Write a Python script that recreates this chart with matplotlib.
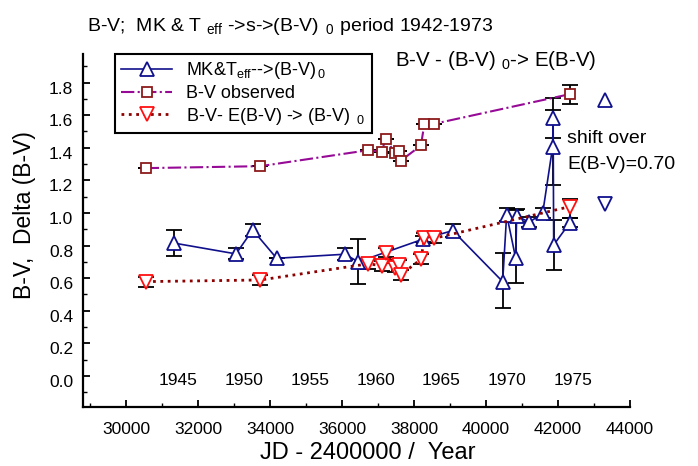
import matplotlib
matplotlib.use('Agg')
import matplotlib.pyplot as plt
from matplotlib import font_manager
from matplotlib.ticker import MultipleLocator, FixedLocator
from matplotlib.transforms import ScaledTranslation

plt.rcParams['font.family'] = ['Liberation Sans', 'DejaVu Sans']
plt.rcParams['mathtext.fontset'] = 'custom'
plt.rcParams['mathtext.rm'] = 'Liberation Sans'
plt.rcParams['mathtext.it'] = 'Liberation Sans:italic'
plt.rcParams['mathtext.bf'] = 'Liberation Sans:bold'

# ---- data: MK & Teff -> (B-V)0 ----
mk_jd = [31342, 33056, 33519, 34185, 36083, 36453, 38259, 39075, 40463, 40574,
         40825, 40852, 41203, 41575, 41850, 41865, 41880, 42333]
mk_bv = [0.815, 0.749, 0.896, 0.722, 0.747, 0.700, 0.840, 0.892, 0.579, 0.990,
         0.722, 0.982, 0.943, 0.999, 1.404, 1.582, 0.804, 0.941]
mk_err_lo = [0.078, 0.034, 0.037, 0.0, 0.037, 0.135, 0.02, 0.04, 0.163, 0.04,
             0.149, 0.04, 0.03, 0.03, 0.23, 0.125, 0.155, 0.03]
mk_err_hi = [0.081, 0.034, 0.037, 0.0, 0.037, 0.141, 0.02, 0.04, 0.174, 0.04,
             0.297, 0.04, 0.03, 0.03, 0.23, 0.125, 0.155, 0.03]

# ---- data: observed B-V ----
obs_jd = [30547, 33731, 36731, 37102, 37213, 37480, 37590, 37630, 38194, 38287, 38564, 42333]
obs_bv = [1.275, 1.287, 1.385, 1.375, 1.455, 1.365, 1.380, 1.320, 1.414, 1.547, 1.547, 1.729]
obs_err = [0.0, 0.0, 0.0, 0.0, 0.0, 0.0, 0.0, 0.0, 0.0, 0.0, 0.0, 0.058]

# ---- data: B-V - E(B-V) -> (B-V)0 ----
cor_bv = [0.579, 0.589, 0.688, 0.677, 0.757, 0.665, 0.681, 0.620, 0.716, 0.845, 0.845, 1.039]
cor_err_lo = [0.035, 0.03, 0.03, 0.03, 0.03, 0.03, 0.03, 0.03, 0.03, 0.03, 0.03, 0.07]
cor_err_hi = [0.03, 0.03, 0.03, 0.03, 0.03, 0.03, 0.03, 0.03, 0.03, 0.03, 0.03, 0.046]

# ---- annotation markers ----
ann_jd = [43306]
ann_up = [1.694]
ann_down = [1.056]

# ---- tick labels ----
x_ticks = [30000, 32000, 34000, 36000, 38000, 40000, 42000, 44000]
x_ticklabels = ['30000', '32000', '34000', '36000', '38000', '40000', '42000', '44000']
y_ticks = [0.0, 0.2, 0.4, 0.6, 0.8, 1.0, 1.2, 1.4, 1.6, 1.8]
y_ticklabels = ['0.0', '0.2', '0.4', '0.6', '0.8', '1.0', '1.2', '1.4', '1.6', '1.8']
year_labels = ['1945', '1950', '1955', '1960', '1965', '1970', '1975']
year_jd = [31456.5, 33282.5, 35108.5, 36934.5, 38760.5, 40587.5, 42413.5]

navy = '#10108c'
brown = '#8c1a1a'
purple = '#960a96'
red = '#ff1010'
darkred = '#8c0000'

fig = plt.figure(figsize=(6.98, 4.66), dpi=100)
ax = fig.add_axes([83/698, 1-407/466, (630-83)/698, (407-54)/466])

eb = dict(fmt='none', ecolor='black', elinewidth=1.3, capsize=5.5, capthick=1.3, zorder=2)
ax.errorbar(mk_jd, mk_bv, yerr=[mk_err_lo, mk_err_hi], **eb)
ax.errorbar(obs_jd, obs_bv, yerr=obs_err, **eb)
ax.errorbar(obs_jd, cor_bv, yerr=[cor_err_lo, cor_err_hi], **eb)

l1, = ax.plot(mk_jd, mk_bv, '-', color=navy, lw=1.2, marker='^', ms=10.5,
              mfc='white', mec=navy, mew=1.3, zorder=3,
              label=r'MK&T$_{\mathrm{eff}}$-->(B-V)$_{\,0}$')
l2, = ax.plot(obs_jd, obs_bv, '-.', color=purple, lw=1.5, marker='s', ms=7.5,
              mfc='white', mec=brown, mew=1.3, zorder=3, label='B-V observed')
l3, = ax.plot(obs_jd, cor_bv, ':', color=darkred, lw=2.0, marker='v', ms=10,
              mfc='white', mec=red, mew=1.3, zorder=3,
              label=r'B-V- E(B-V) -> (B-V) $_{\,0}$')

ax.plot(ann_jd, ann_up, linestyle='none', marker='^', ms=10.5, mfc='white', mec=navy, mew=1.3)
ax.plot(ann_jd, ann_down, linestyle='none', marker='v', ms=10.5, mfc='white', mec=navy, mew=1.3)

for lab, jd in zip(year_labels, year_jd):
    ax.text(jd, -0.03, lab, ha='center', va='center', fontsize=12.5)

ax.set_xlim(28806, 44000)
ax.set_ylim(-0.19, 1.975)
ax.xaxis.set_major_locator(FixedLocator(x_ticks))
ax.xaxis.set_minor_locator(MultipleLocator(1000))
ax.yaxis.set_major_locator(FixedLocator(y_ticks))
ax.yaxis.set_minor_locator(MultipleLocator(0.1))
ax.set_yticklabels(y_ticklabels)
ax.set_xticklabels(x_ticklabels)

for s in ['top', 'right']:
    ax.spines[s].set_visible(False)
for s in ['left', 'bottom']:
    ax.spines[s].set_linewidth(1.6)
ax.tick_params(axis='both', which='major', direction='in', length=5, width=1.3, labelsize=12.5)
ax.tick_params(axis='both', which='minor', direction='in', length=3, width=1.0)
ax.tick_params(axis='x', which='major', pad=11)
ax.tick_params(axis='y', which='major', pad=7)
for lbl in ax.get_yticklabels():
    lbl.set_transform(lbl.get_transform() + ScaledTranslation(0, -5/100, fig.dpi_scale_trans))

ax.set_xlabel('JD - 2400000 /  Year', fontsize=17)
ax.xaxis.set_label_coords((368-83)/547, (407-459)/353)
ax.xaxis.label.set_verticalalignment('baseline')
ax.set_ylabel('B-V,  Delta (B-V)', fontsize=16.5)
ax.yaxis.set_label_coords((25-83)/547, (407-215)/353)
ax.yaxis.label.set_verticalalignment('center')

leg = ax.legend(handles=[l1, l2, l3], loc='upper left', bbox_to_anchor=(32/547, 1.0),
                fontsize=13, frameon=True, fancybox=False, edgecolor='black',
                framealpha=1, handlelength=2.8, borderpad=0.35, labelspacing=0.2,
                handletextpad=0.8, borderaxespad=0)
leg.get_frame().set_linewidth(1.5)

# title: a narrow sans if available, else a slightly smaller regular one
try:
    font_manager.findfont(font_manager.FontProperties(family='Liberation Sans Narrow'),
                          fallback_to_default=False)
    title_family, title_size = ['Liberation Sans Narrow', 'Liberation Sans'], 16
except Exception:
    title_family, title_size = ['Liberation Sans', 'DejaVu Sans'], 14

fig.text(290/698, 1-31/466, r'B-V;  MK & T $_{\mathrm{eff}}$ ->s->(B-V) $_{\,0}$ period 1942-1973',
         ha='center', va='baseline', fontsize=title_size, family=title_family)
fig.text(395/698, 1-66/466, r'B-V - (B-V) $_{0}$-> E(B-V)', ha='left', va='baseline', fontsize=14.8)
fig.text(567/698, 1-139/466, 'shift over', ha='left', va='center', fontsize=14)
fig.text(567/698, 1-165/466, 'E(B-V)=0.70', ha='left', va='center', fontsize=14)

fig.savefig('out.png', dpi=100)
